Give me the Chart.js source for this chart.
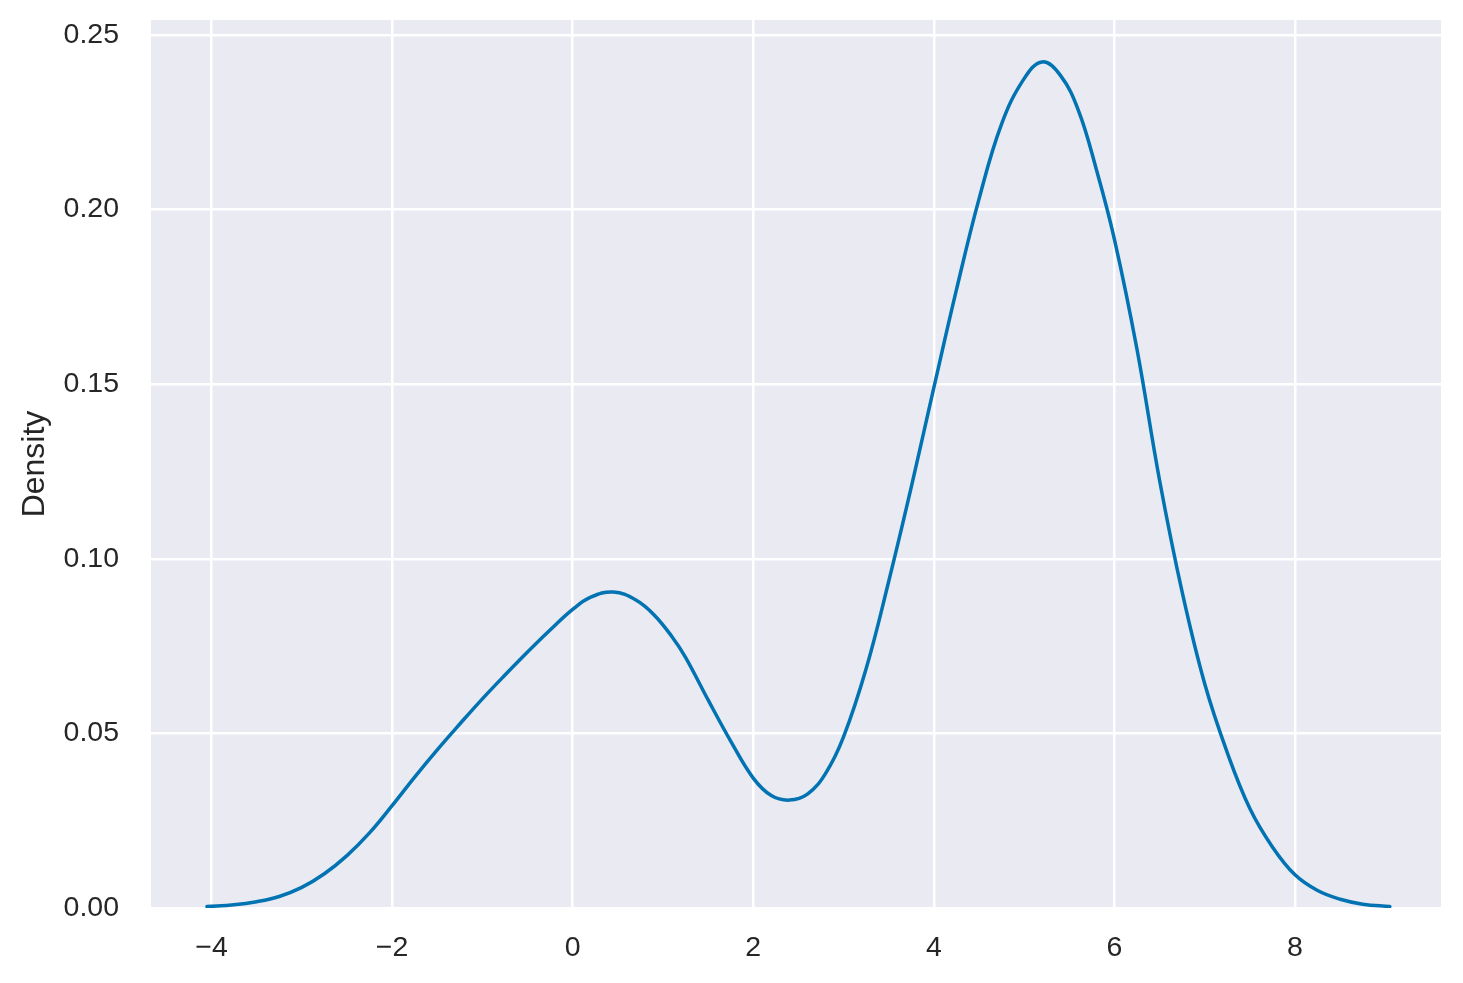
<!DOCTYPE html>
<html>
<head>
<meta charset="utf-8">
<script src="https://cdn.jsdelivr.net/npm/chart.js@4.4.1/dist/chart.umd.min.js"></script>
<style>
  html, body { margin: 0; padding: 0; background: #ffffff; }
  #wrap { width: 1463px; height: 983px; }
</style>
</head>
<body>
<div id="wrap"><canvas id="c" width="1463" height="983"></canvas></div>
<script>
// Density curve
const kdeX = [-4.05, -3.75, -3.5, -3.25, -3.0, -2.75, -2.5, -2.25, -2.0, -1.75, -1.5, -1.25, -1.0, -0.75, -0.5, -0.25,
              0.0, 0.2, 0.45, 0.7, 0.9, 1.1, 1.25, 1.5, 1.75, 2.0, 2.2, 2.4, 2.6, 2.8, 3.0, 3.25, 3.5, 3.75,
              4.0, 4.25, 4.5, 4.75, 5.0, 5.2, 5.4, 5.6, 5.8, 6.0, 6.25, 6.5, 6.75, 7.0, 7.25, 7.5, 7.75,
              8.0, 8.25, 8.5, 8.75, 9.05];
const kdeY = [0.0004, 0.0009, 0.0018, 0.0033, 0.0059, 0.0098, 0.0150, 0.0215, 0.0293, 0.0375, 0.0453, 0.0527, 0.0599, 0.0667, 0.0733, 0.0796,
              0.0855, 0.0890, 0.0905, 0.0882, 0.0840, 0.0777, 0.0718, 0.0596, 0.0478, 0.0372, 0.0322, 0.0309, 0.0326, 0.0385, 0.0490, 0.0685, 0.0935, 0.1205,
              0.1490, 0.1770, 0.2030, 0.2245, 0.2375, 0.2423, 0.2385, 0.2285, 0.2115, 0.1915, 0.1600, 0.1225, 0.0905, 0.0642, 0.0445, 0.0285, 0.0175,
              0.0095, 0.0050, 0.0025, 0.0011, 0.0004];
const xTicks = [-4, -2, 0, 2, 4, 6, 8];
const yTicks = [0.00, 0.05, 0.10, 0.15, 0.20, 0.25];
const yLabel = 'Density';

const points = kdeX.map((x, i) => ({ x: x, y: kdeY[i] }));

const plotBg = {
  id: 'plotBg',
  beforeDraw(chart) {
    const a = chart.chartArea;
    const ctx = chart.ctx;
    ctx.save();
    ctx.fillStyle = '#EAEAF2';
    ctx.fillRect(a.left, a.top, a.right - a.left, a.bottom - a.top);
    ctx.restore();
  }
};

const FAMILY = '"Liberation Sans", Arial, sans-serif';
const TICK_FONT = { family: FAMILY, size: 28.5 };
const LABEL_FONT = { family: FAMILY, size: 32 };
const TEXT = '#262626';
const PAD_LEFT = 16.3;

new Chart(document.getElementById('c'), {
  type: 'line',
  data: {
    datasets: [{
      data: points,
      borderColor: '#0173B2',
      borderWidth: 3.5,
      pointRadius: 0,
      fill: false,
      tension: 0.4,
      borderCapStyle: 'round',
      borderJoinStyle: 'round'
    }]
  },
  options: {
    responsive: false,
    animation: false,
    layout: { padding: { top: 20, right: 22, bottom: 0, left: PAD_LEFT } },
    plugins: { legend: { display: false }, tooltip: { enabled: false } },
    scales: {
      x: {
        type: 'linear',
        min: -4.67,
        max: 9.617,
        afterBuildTicks(scale) { scale.ticks = xTicks.map(v => ({ value: v })); },
        afterFit(scale) {
          scale.height = 75;
          scale.paddingLeft = 0; scale.paddingRight = 0;
        },
        grid: { color: '#ffffff', lineWidth: 2.5, drawTicks: false },
        border: { display: false },
        ticks: {
          font: TICK_FONT, color: TEXT, padding: 23, maxRotation: 0, autoSkip: false,
          callback: v => (v < 0 ? '\u2212' + Math.abs(v) : String(v))
        }
      },
      y: {
        type: 'linear',
        min: 0,
        max: 0.2543,
        afterBuildTicks(scale) { scale.ticks = yTicks.map(v => ({ value: v })); },
        afterFit(scale) {
          scale.width = 151 - PAD_LEFT;
          scale.paddingTop = 0; scale.paddingBottom = 0;
        },
        grid: { color: '#ffffff', lineWidth: 2.5, drawTicks: false },
        border: { display: false },
        ticks: {
          font: TICK_FONT, color: TEXT, padding: 32, autoSkip: false,
          callback: v => Number(v).toFixed(2)
        },
        title: {
          display: true, text: yLabel, font: LABEL_FONT, color: TEXT,
          padding: { top: 0, bottom: 0 }
        }
      }
    }
  },
  plugins: [plotBg]
});
</script>
</body>
</html>
